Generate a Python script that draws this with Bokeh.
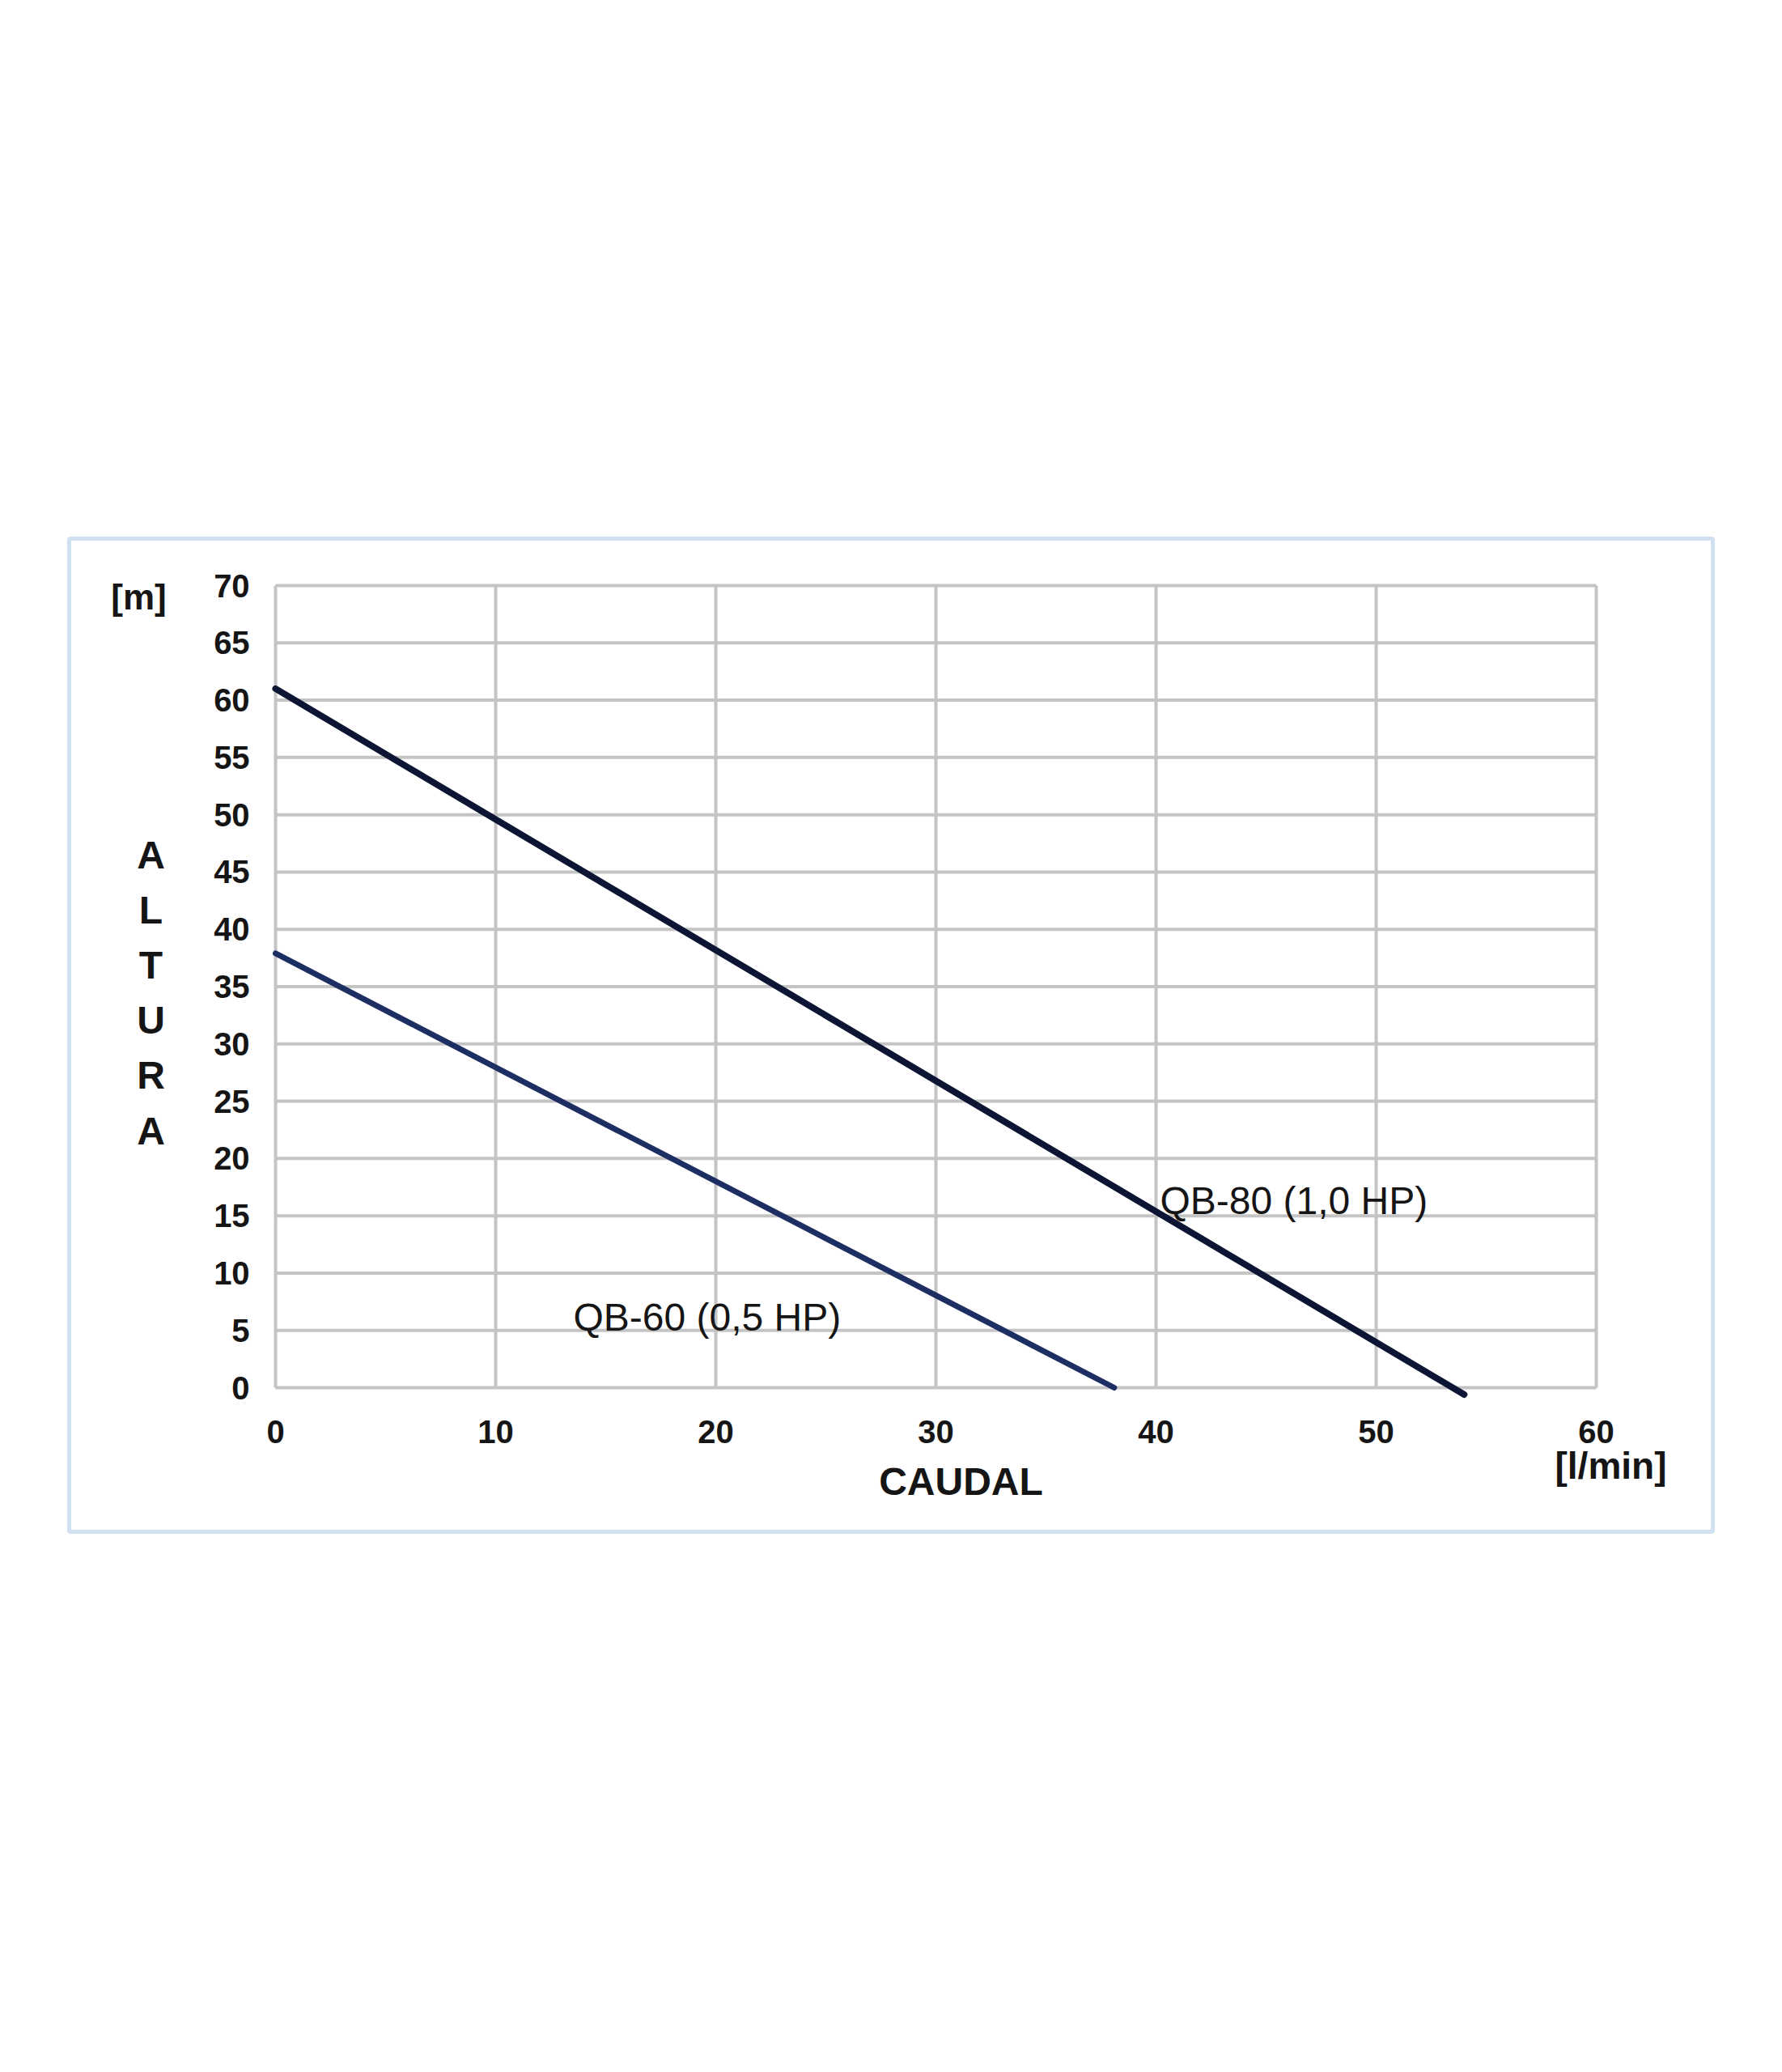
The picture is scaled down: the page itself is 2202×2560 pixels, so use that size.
from bokeh.plotting import figure
from bokeh.models import Range1d, FixedTicker, Label
from bokeh.embed import file_html
from bokeh.resources import INLINE

# ---- data ----
flow_qb80 = [0.0, 54.0]
head_qb80 = [61.0, -0.6]
flow_qb60 = [0.0, 38.1]
head_qb60 = [37.9, 0.0]
series_names = ["QB-80 (1,0 HP)", "QB-60 (0,5 HP)"]
x_ticks = [0, 10, 20, 30, 40, 50, 60]
y_ticks = [0, 5, 10, 15, 20, 25, 30, 35, 40, 45, 50, 55, 60, 65, 70]
x_title = "CAUDAL"
x_unit = "[l/min]"
y_unit = "[m]"
y_title = "ALTURA"

# ---- layout (page pixels) ----
W, H = 2186, 2100
ORIG = 0                                        # page offset of the figure
FL, FR, FT, FB = 85, 2116, 665, 1892          # outer light box = plot frame
PX0, PX60, PY0, PY70 = 340, 1972, 1714, 723   # where the grid sits
sx = (PX60 - PX0) / 60.0
sy = (PY0 - PY70) / 70.0
X0, X1 = (FL - PX0) / sx, (FR - PX0) / sx
Y0, Y1 = (PY0 - FB) / sy, (PY0 - FT) / sy

def to_data(px, py):
    return (px - PX0) / sx, (PY0 - py) / sy

p = figure(width=W, height=H, output_backend="svg", toolbar_location=None,
           x_range=Range1d(X0, X1), y_range=Range1d(Y0, Y1))
p.min_border_left = FL - ORIG
p.min_border_right = ORIG + W - FR
p.min_border_top = FT - ORIG
p.min_border_bottom = ORIG + H - FB
p.outline_line_color = "#d2e1f1"
p.outline_line_width = 5
p.background_fill_color = "white"
p.border_fill_color = "white"
p.grid.visible = False

p.xaxis.ticker = FixedTicker(ticks=x_ticks)
p.yaxis.ticker = FixedTicker(ticks=y_ticks)
p.xaxis.fixed_location = 0
p.yaxis.fixed_location = -0.4
for ax in (p.xaxis, p.yaxis):
    ax.axis_line_color = None
    ax.major_tick_line_color = None
    ax.minor_tick_line_color = None
    ax.major_tick_out = 0
    ax.major_tick_in = 0
    ax.major_label_text_font = "Liberation Sans"
    ax.major_label_text_font_style = "bold"
    ax.major_label_text_font_size = "40px"
    ax.major_label_text_color = "#151515"
p.xaxis.major_label_standoff = 40
p.yaxis.major_label_standoff = 21

# grid drawn from tick lists
nx, ny = len(x_ticks), len(y_ticks)
grid_col, grid_w = "#c4c4c4", 4
p.segment(x0=x_ticks, y0=[y_ticks[0]] * nx, x1=x_ticks, y1=[y_ticks[-1]] * nx,
          line_color=grid_col, line_width=grid_w)
p.segment(x0=[x_ticks[0]] * ny, y0=y_ticks, x1=[x_ticks[-1]] * ny, y1=y_ticks,
          line_color=grid_col, line_width=grid_w)

p.line(flow_qb80, head_qb80, line_color="#0c1534", line_width=8, line_cap="round")
p.line(flow_qb60, head_qb60, line_color="#1d2f62", line_width=7, line_cap="round")

def add_label(text, px, py, size, bold=True, align="center"):
    x, y = to_data(px, py)
    p.add_layout(Label(x=x, y=y, text=text, text_font="Liberation Sans",
                       text_font_style="bold" if bold else "normal",
                       text_font_size=size, text_align=align,
                       text_baseline="middle", text_color="#151515"))

add_label(series_names[0], 1433, 1483, "48px", bold=False, align="left")
add_label(series_names[1], 708, 1627, "48px", bold=False, align="left")
add_label(x_title, 1187, 1830, "48px")
add_label(x_unit, 1990, 1810, "46px")
add_label(y_unit, 171, 737, "44px")
letter_y = [1056, 1124, 1192, 1260, 1328, 1397]
for ch, ly in zip(y_title, letter_y):
    add_label(ch, 186, ly, "48px")

open("out.html", "w").write(file_html(p, INLINE))
